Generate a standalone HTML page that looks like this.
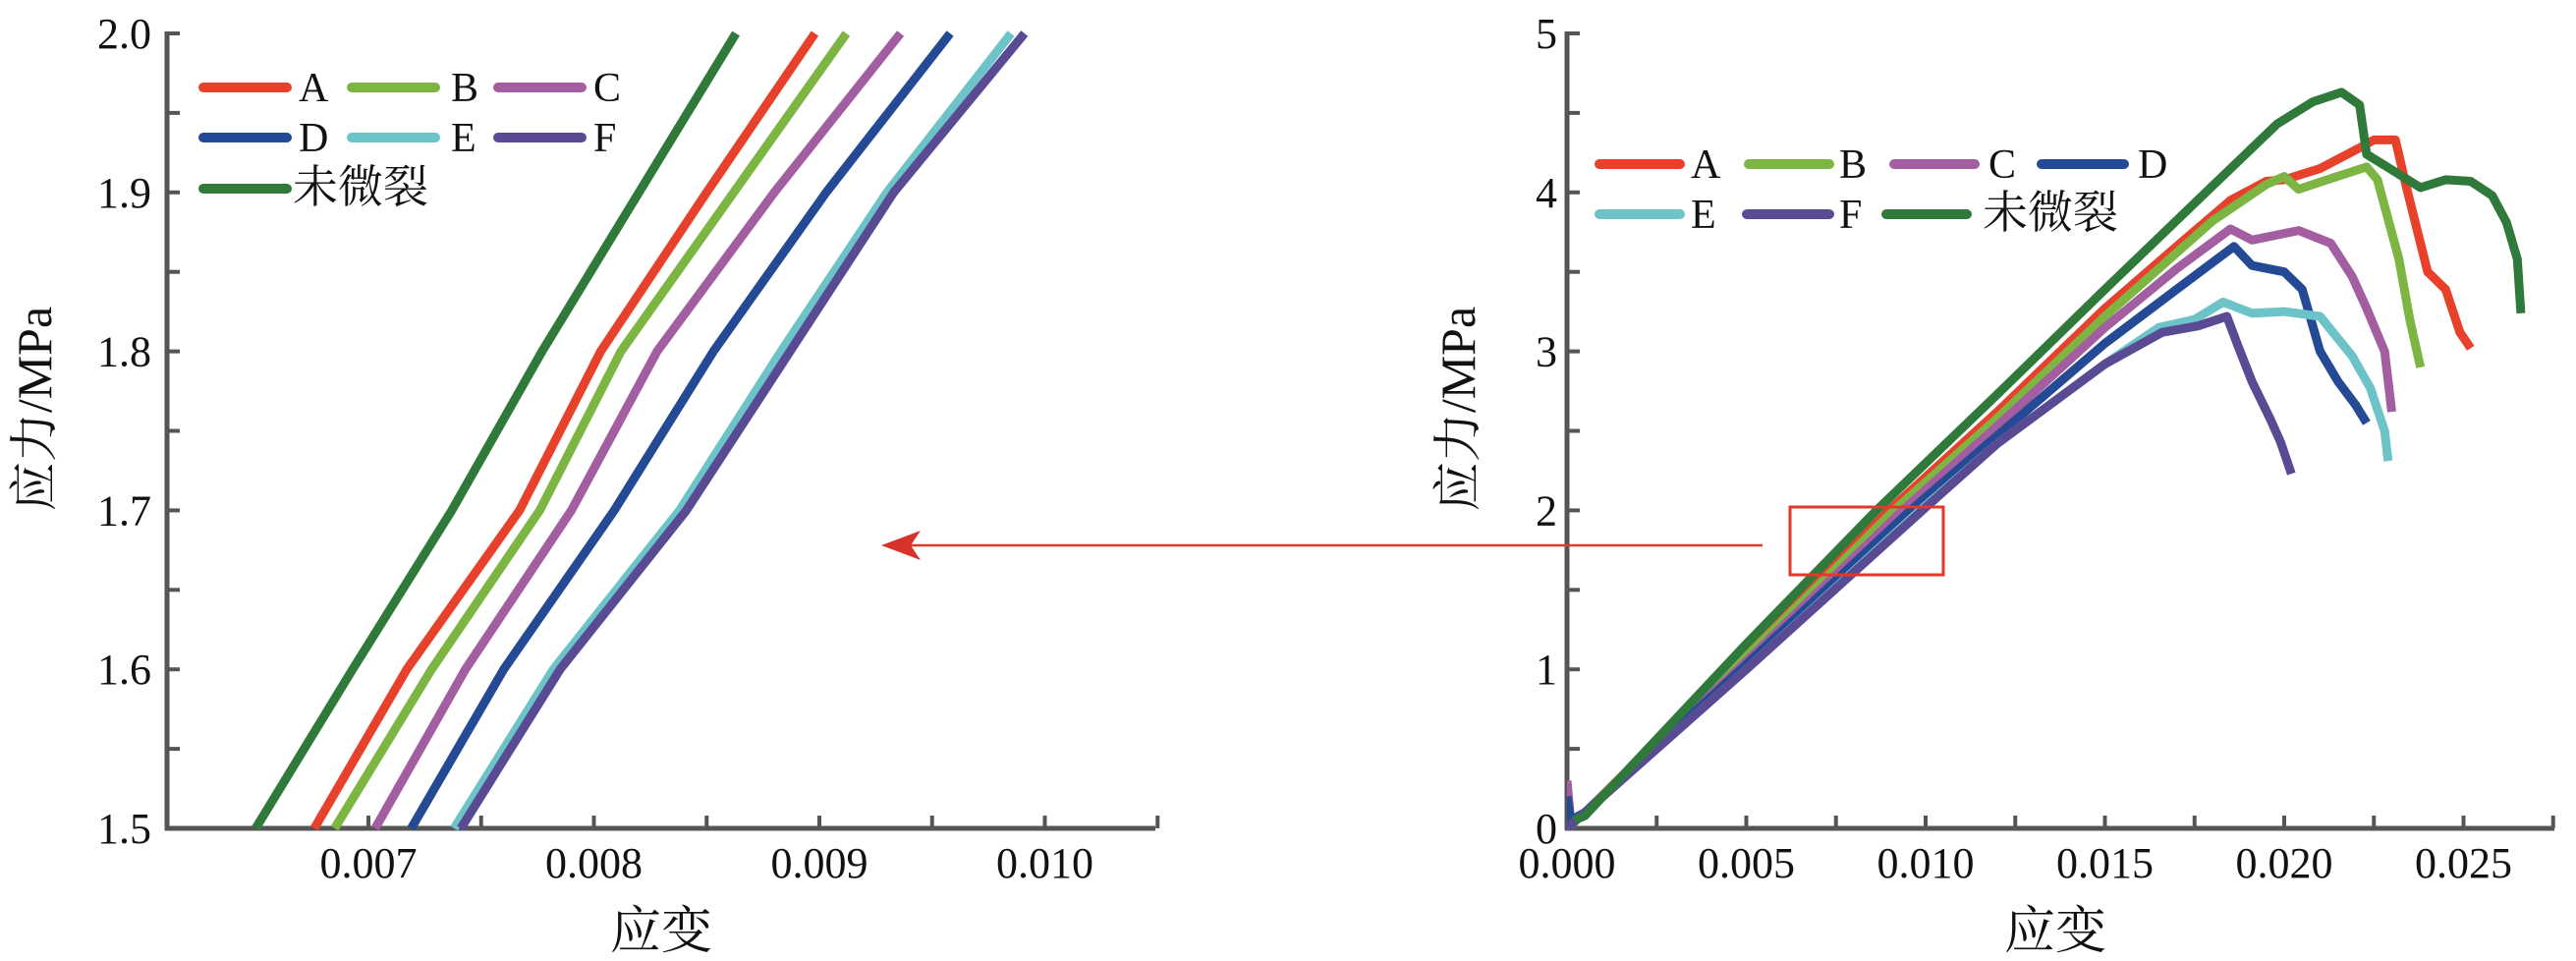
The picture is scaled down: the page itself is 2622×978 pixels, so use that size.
<!DOCTYPE html>
<html><head><meta charset="utf-8">
<style>
html,body{margin:0;padding:0;background:#fff;}
svg{display:block;}
text{font-family:"Liberation Serif","Noto Serif CJK SC",serif;fill:#111;}
</style></head>
<body>
<svg id="chart" width="2622" height="978" viewBox="0 0 2622 978" xmlns="http://www.w3.org/2000/svg">
<defs>
<clipPath id="clipL"><rect x="170" y="30" width="1006" height="815"/></clipPath>
<clipPath id="clipR"><rect x="1595" y="20" width="1010" height="825"/></clipPath>
</defs>
<g id="left"></g>
<g id="right"></g>
<rect x="1822" y="516" width="156" height="69" fill="none" stroke="#e0392b" stroke-width="3"/>
<line x1="1794" y1="555" x2="920" y2="555" stroke="#e0392b" stroke-width="2.5"/>
<polygon points="897,555 937,540 927,555 937,570" fill="#d7332a"/>
</svg>
<script>
const seriesNames = ["A","B","C","D","E","F","未微裂"];
const colors = ["#e8412b","#7db543","#a25ea0","#244a95","#6cc3c8","#5a4a94","#2f7a3a"];
// zoomed chart (strain, stress)
const zStress = [1.5,1.6,1.7,1.8,1.9,2.0];
const zA = [0.00676,0.00717,0.00767,0.00803,0.0085,0.00898];
const zB = [0.00685,0.00728,0.00776,0.00812,0.00862,0.00912];
const zC = [0.00703,0.00743,0.0079,0.00828,0.0088,0.00936];
const zD = [0.00719,0.0076,0.00809,0.00853,0.00903,0.00958];
const zE = [0.00738,0.00782,0.00838,0.00883,0.0093,0.00985];
const zF = [0.00741,0.00785,0.00841,0.00887,0.00933,0.00991];
const zG = [0.0065,0.00693,0.00737,0.00777,0.0082,0.00863];
const leftXTicks = ["0.007","0.008","0.009","0.010"];
const leftYTicks = ["1.5","1.6","1.7","1.8","1.9","2.0"];
// full chart
const fA_x = [0,0.0005,0.005,0.00898,0.012,0.015,0.017,0.0185,0.0195,0.020,0.021,0.0221,0.0225,0.0231,0.0234,0.0240,0.0245,0.0249,0.0252];
const fA_y = [0,0.1,1.1,2.0,2.62,3.27,3.66,3.95,4.07,4.08,4.15,4.28,4.33,4.33,4.04,3.5,3.39,3.12,3.02];
const fB_x = [0,0.0005,0.005,0.00912,0.012,0.015,0.018,0.0195,0.0200,0.0204,0.0212,0.0223,0.0226,0.0232,0.0235,0.0238];
const fB_y = [0,0.1,1.08,2.0,2.58,3.22,3.82,4.05,4.1,4.02,4.08,4.16,4.08,3.58,3.2,2.9];
const fC_x = [0,0.0001,0.0005,0.005,0.00936,0.012,0.015,0.017,0.0185,0.0191,0.0204,0.0213,0.0219,0.0223,0.0228,0.0230];
const fC_y = [0.3,0.05,0.1,1.05,2.0,2.53,3.15,3.52,3.77,3.70,3.76,3.68,3.47,3.27,3.0,2.62];
const fD_x = [0,0.0001,0.0005,0.005,0.00958,0.012,0.015,0.017,0.0186,0.0191,0.0200,0.0205,0.0210,0.0215,0.0220,0.0223];
const fD_y = [0.2,0.05,0.1,1.03,2.0,2.47,3.05,3.39,3.66,3.54,3.50,3.39,3.0,2.81,2.66,2.55];
const fE_x = [0,0.0005,0.005,0.00985,0.012,0.015,0.0165,0.0175,0.0183,0.0191,0.0200,0.0210,0.0219,0.0224,0.0228,0.0229];
const fE_y = [0,0.1,1.0,2.0,2.42,2.92,3.15,3.2,3.31,3.24,3.25,3.22,2.97,2.77,2.5,2.31];
const fF_x = [0,0.0005,0.005,0.00991,0.012,0.015,0.0166,0.0176,0.0184,0.0187,0.0191,0.0196,0.0199,0.0202];
const fF_y = [0,0.1,1.0,2.0,2.42,2.92,3.12,3.16,3.22,3.04,2.81,2.58,2.43,2.23];
const fG_x = [0.0002,0.0005,0.001,0.005,0.00863,0.012,0.015,0.018,0.0198,0.0208,0.0216,0.0221,0.0223,0.0228,0.0238,0.0245,0.0252,0.0258,0.0262,0.0265,0.0266];
const fG_y = [0.05,0.08,0.2,1.16,2.0,2.73,3.39,4.04,4.43,4.57,4.63,4.55,4.24,4.17,4.03,4.08,4.07,3.98,3.81,3.58,3.24];
const rightXTicks = ["0.000","0.005","0.010","0.015","0.020","0.025"];
const rightYTicks = ["0","1","2","3","4","5"];

const NS = "http://www.w3.org/2000/svg";
function mk(parent, tag, attrs){ const e=document.createElementNS(NS,tag); for(const k in attrs) e.setAttribute(k,attrs[k]); parent.appendChild(e); return e; }
const AX = "#555";

// left scales
const lx = s => 375 + (s-0.007)*229500;
const ly = v => 843 - (v-1.5)*1618;
// right scales
const rx = s => 1595 + s*36500;
const ry = v => 843 - v*161.8;

function drawAxes(g, x0, x1, yTop, yBot, xTickPos, xLabels, xMinor, yTickPos, yLabels, yMinor, labelX, titleX, xTitleCx){
  let e;
  e = mk(g,'line',{x1:x0,y1:yTop,x2:x0,y2:yBot+2,stroke:AX,'stroke-width':5});
   
  e = mk(g,'line',{x1:x0-2,y1:yBot,x2:x1,y2:yBot,stroke:AX,'stroke-width':5});
   
  xMinor.forEach(px=>{ e=mk(g,'line',{x1:px,y1:yBot,x2:px,y2:yBot-13,stroke:AX,'stroke-width':4});
      });
  xTickPos.forEach((px,i)=>{ e=mk(g,'text',{x:px,y:893,'font-size':44,'text-anchor':'middle'}); e.textContent=xLabels[i];
      });
  yMinor.forEach(py=>{ e=mk(g,'line',{x1:x0,y1:py,x2:x0+13,y2:py,stroke:AX,'stroke-width':4});
      });
  yTickPos.forEach((py,i)=>{ e=mk(g,'text',{x:labelX,y:py+15,'font-size':44,'text-anchor':'end'}); e.textContent=yLabels[i];
      });
  e = mk(g,'text',{x:xTitleCx,y:965,'font-size':52,'text-anchor':'middle'}); e.textContent='应变';
   
  e = mk(g,'text',{x:0,y:0,'font-size':50,'text-anchor':'middle',transform:`translate(${titleX},416) rotate(-90)`}); e.textContent='应力/MPa';
   
}

function drawLine(g, xs, ys, sx, sy, color, name, clip){
  const d = xs.map((x,i)=>(i?'L':'M')+sx(x).toFixed(1)+','+sy(ys[i]).toFixed(1)).join(' ');
  const p = mk(g,'path',{d:d,fill:'none',stroke:color,'stroke-width':9,'stroke-linejoin':'round','stroke-linecap':'butt','clip-path':clip});
  
  
}

function legend(g, items){
  items.forEach(it=>{
    const l = mk(g,'line',{x1:it.x1,y1:it.y,x2:it.x2,y2:it.y,stroke:colors[it.i],'stroke-width':10,'stroke-linecap':'round'});
    
    
    const t = mk(g,'text',{x:it.tx,y:it.y+14,'font-size':it.i===6?46:42}); t.textContent = seriesNames[it.i];
    
    
  });
}

// LEFT
const L = document.getElementById('left');
{
  const xt = [0.007,0.008,0.009,0.010].map(lx);
  const xm = [0.0075,0.008,0.0085,0.009,0.0095,0.010,0.0105].map(lx);
  xm.unshift(lx(0.007));
  const yt = leftYTicks.map(v=>ly(parseFloat(v)));
  const ym = [1.55,1.6,1.65,1.7,1.75,1.8,1.85,1.9,1.95,2.0].map(ly);
  drawAxes(L,170,1176,32,843,xt,leftXTicks,xm,yt,leftYTicks,ym,154,52,673);
  const zs = [zA,zB,zC,zD,zE,zF,zG];
  const order = [6,0,1,2,3,4,5];
  order.forEach(i=>drawLine(L, zs[i], zStress, lx, ly, colors[i], 'zoom-line-'+(i===6?'uncracked':seriesNames[i]), 'url(#clipL)'));
  legend(L,[
    {i:0,x1:207,x2:292,y:89,tx:304},{i:1,x1:358,x2:443,y:89,tx:459},{i:2,x1:507,x2:592,y:89,tx:604},
    {i:3,x1:207,x2:292,y:140,tx:304},{i:4,x1:358,x2:443,y:140,tx:459},{i:5,x1:507,x2:592,y:140,tx:604},
    {i:6,x1:207,x2:292,y:192,tx:298}
  ]);
}
// RIGHT
const R = document.getElementById('right');
{
  const xt = [0,0.005,0.010,0.015,0.020,0.025].map(rx);
  const xm = [0.0025,0.005,0.0075,0.010,0.0125,0.015,0.0175,0.020,0.0225,0.025,0.0275].map(rx);
  const yt = rightYTicks.map(v=>ry(parseFloat(v)));
  const ym = [0.5,1,1.5,2,2.5,3,3.5,4,4.5,5].map(ry);
  drawAxes(R,1595,2600,32,843,xt,rightXTicks,xm,yt,rightYTicks,ym,1585,1501,2092);
  const fx = [fA_x,fB_x,fC_x,fD_x,fE_x,fF_x,fG_x];
  const fy = [fA_y,fB_y,fC_y,fD_y,fE_y,fF_y,fG_y];
  [0,1,2,3,4,5,6].forEach(i=>drawLine(R, fx[i], fy[i], rx, ry, colors[i], 'curve-'+(i===6?'uncracked':seriesNames[i]), 'url(#clipR)'));
  legend(R,[
    {i:0,x1:1628,x2:1710,y:167,tx:1721},{i:1,x1:1780,x2:1862,y:167,tx:1872},{i:2,x1:1928,x2:2010,y:167,tx:2024},{i:3,x1:2078,x2:2162,y:167,tx:2176},
    {i:4,x1:1628,x2:1710,y:218,tx:1721},{i:5,x1:1778,x2:1862,y:218,tx:1872},{i:6,x1:1920,x2:2002,y:218,tx:2018}
  ]);
}
</script>
</body></html>
